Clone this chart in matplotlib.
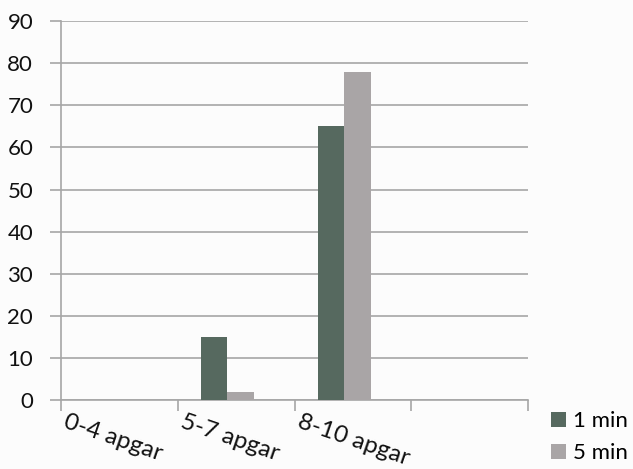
import numpy as np
import matplotlib.pyplot as plt

plt.rcParams['font.family'] = ['Lato', 'DejaVu Sans']

categories = ["0-4 apgar", "5-7 apgar", "8-10 apgar", ""]
one_min = [0, 15, 65, 0]
five_min = [0, 2, 78, 0]

c_one = "#56695f"
c_five = "#a9a5a6"
grid_c = "#a6a6a6"

fig = plt.figure(figsize=(6.33, 4.69), dpi=100, facecolor="#fcfcfc")
ax = fig.add_axes([0.0964, 0.147, 0.738, 0.808], facecolor="#fcfcfc")

x = np.arange(len(categories))
w = 0.225
ax.bar(x + 0.425 - w / 2, one_min, w, color=c_one, label="1 min", zorder=3)
ax.bar(x + 0.425 + w / 2, five_min, w, color=c_five, label="5 min", zorder=3)

ax.set_xlim(0, len(categories))
ax.set_ylim(0, 90)
ax.set_yticks(np.arange(0, 91, 10))
ax.yaxis.grid(True, color=grid_c, linewidth=1.2, zorder=0)

# ticks sit on the category boundaries, slanted names hang off them
ax.set_xticks(np.arange(len(categories) + 1))
ax.set_xticklabels([])
for i, name in enumerate(categories):
    ax.annotate(name, xy=(i, 0), xycoords=("data", "axes fraction"),
                xytext=(5, -8), textcoords="offset points",
                rotation=-19, rotation_mode="anchor", ha="left", va="top",
                fontsize=17.5, color="#111111", annotation_clip=False)

for s in ["top", "right"]:
    ax.spines[s].set_visible(False)
for s in ["left", "bottom"]:
    ax.spines[s].set_color(grid_c)
    ax.spines[s].set_linewidth(1.2)

ax.tick_params(axis="y", length=8, width=1.2, color=grid_c, pad=12,
               labelsize=16, labelcolor="#111111")
ax.tick_params(axis="x", length=8, width=1.2, color=grid_c)

ax.legend(loc="lower left", bbox_to_anchor=(1.03, -0.19), frameon=False,
          fontsize=16, handlelength=0.65, handleheight=0.65, handletextpad=0.35,
          labelspacing=0.55, borderaxespad=0)

fig.savefig("out.png", dpi=100, facecolor=fig.get_facecolor())
